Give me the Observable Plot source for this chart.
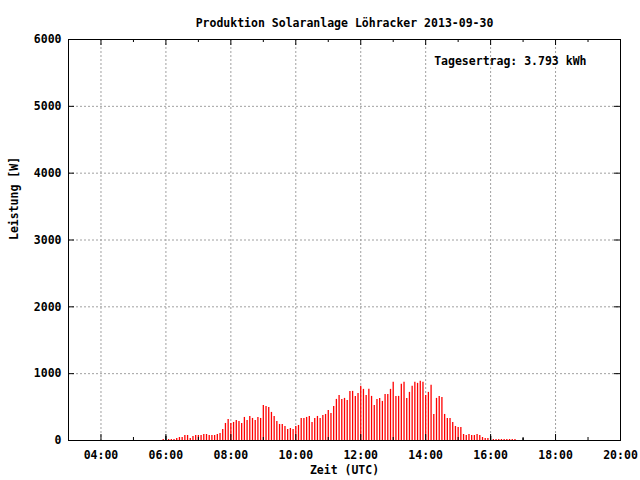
<!DOCTYPE html>
<html>
<head>
<meta charset="utf-8">
<script src="https://cdn.jsdelivr.net/npm/d3@7"></script>
<script src="https://cdn.jsdelivr.net/npm/@observablehq/plot@0.6"></script>
<style>
  html, body { margin: 0; padding: 0; background: #fff; }
</style>
</head>
<body>
<div id="chart"></div>
<script>
// ---- data ----
const titleText = "Produktion Solaranlage Löhracker 2013-09-30";
const yieldText = "Tagesertrag: 3.793 kWh";
const xLabel = "Zeit (UTC)";
const yLabel = "Leistung [W]";

// 5-minute power readings (W), first reading at 05:55
const redStart = "05:55";
const stepMinutes = 5;
const redValues = [
  15, null, 15, 15, 15, 30, 45, 45, 75, 75, 30, 60,          // 05:55 - 06:50
  75, 75, 75, 90, 90, 75, 75, 75, 90, 105, 165, 255, 315,    // 06:55 - 07:55
  255, 270, 300, 285, 255, 345, 300, 360, 330, 300, 345, 330, // 08:00 - 08:55
  525, 510, 495, 420, 360, 285, 240, 240, 210, 165, 180, 165, // 09:00 - 09:55
  210, 225, 330, 330, 345, 360, 270, 330, 360, 330, 375, 390, // 10:00 - 10:55
  450, 405, 510, 615, 675, 615, 630, 600, 735, 735, 660, 705, // 11:00 - 11:55
  810, 765, 675, 765, 660, 525, 615, 630, 585, 690, 690, 765, // 12:00 - 12:55
  870, 660, 660, 840, 870, 630, 720, 810, 870, 855, 885, 870, // 13:00 - 13:55
  675, 720, 825, 390, 630, 660, 645, 390, 330, 330, 270, 210, // 14:00 - 14:55
  195, 195, 90, 75, 90, 75, 75, 90, 75, 45, 30, 30,           // 15:00 - 15:55
  null, 15, 15, 15, 15, 15, 15, 15, 15, 15                    // 16:00 - 16:45
];
const blackTimes = ["06:00", "16:00", "17:00"];
const blackValues = [60, 60, 30];

const xMajorTicks = ["04:00", "06:00", "08:00", "10:00", "12:00", "14:00", "16:00", "18:00", "20:00"];
const xMinorTicks = ["05:00", "07:00", "09:00", "11:00", "13:00", "15:00", "17:00", "19:00"];
const xDomain = ["03:00", "20:00"];
const yTicks = [0, 1000, 2000, 3000, 4000, 5000, 6000];

// ---- helpers ----
const toHours = s => { const [h, m] = s.split(":").map(Number); return h + m / 60; };
const fmtHours = h => String(Math.floor(h)).padStart(2, "0") + ":" + String(Math.round((h % 1) * 60)).padStart(2, "0");

const startH = toHours(redStart);
const redData = redValues.map((v, i) => ({t: startH + i * stepMinutes / 60, v}))
  .filter(d => d.v !== null);
const blackData = blackTimes.map((t, i) => ({t: toHours(t), v: blackValues[i]}));
const majorH = xMajorTicks.map(toHours);
const minorH = xMinorTicks.map(toHours);
const gridXH = majorH.filter(h => h > toHours(xDomain[0]) && h < toHours(xDomain[1]));
const gridYV = yTicks.filter(v => v > 0 && v < 6000);

const gridStyle = {stroke: "#a0a0a0", strokeOpacity: 1, strokeWidth: 1, strokeDasharray: "2,2"};

const chart = Plot.plot({
  width: 640,
  height: 480,
  marginLeft: 68,
  marginRight: 20,
  marginTop: 39,
  marginBottom: 40,
  style: {fontFamily: "'DejaVu Sans Mono', monospace", fontSize: "11.5px", fontWeight: "bold", background: "#fff", color: "#000"},
  x: {domain: xDomain.map(toHours)},
  y: {domain: [0, 6000]},
  marks: [
    Plot.gridX(gridXH, gridStyle),
    Plot.gridY(gridYV, gridStyle),
    Plot.ruleX(redData, {x: "t", y1: 0, y2: "v", stroke: "#ff0000", strokeWidth: 1.3}),
    Plot.ruleX(blackData, {x: "t", y1: 0, y2: "v", stroke: "#000", strokeWidth: 1.3}),
    // major / minor ticks, mirrored inside the frame
    Plot.tickX(majorH, {x: d => d, insetTop: 395, stroke: "#000"}),
    Plot.tickX(majorH, {x: d => d, insetBottom: 395, stroke: "#000"}),
    Plot.tickX(minorH, {x: d => d, insetTop: 398, stroke: "#000"}),
    Plot.tickX(minorH, {x: d => d, insetBottom: 398, stroke: "#000"}),
    Plot.tickY(gridYV, {y: d => d, insetRight: 546, stroke: "#000"}),
    Plot.tickY(gridYV, {y: d => d, insetLeft: 546, stroke: "#000"}),
    Plot.axisX(majorH, {tickSize: 0, tickPadding: 10, tickFormat: fmtHours, label: null, fill: "#000"}),
    Plot.axisY(yTicks, {tickSize: 0, tickPadding: 7, tickFormat: d => String(d), label: null, fill: "#000"}),
    Plot.frame({stroke: "#000", strokeWidth: 1}),
    Plot.text([titleText], {frameAnchor: "top", dy: -21, fill: "#000"}),
    Plot.text([yieldText], {frameAnchor: "top-right", dx: -34, dy: 17, textAnchor: "end", fill: "#000"}),
    Plot.text([xLabel], {frameAnchor: "bottom", dy: 33, fill: "#000"}),
    Plot.text([yLabel], {frameAnchor: "left", dx: -54, rotate: -90, fill: "#000"})
  ]
});
document.getElementById("chart").appendChild(chart);
</script>
</body>
</html>
